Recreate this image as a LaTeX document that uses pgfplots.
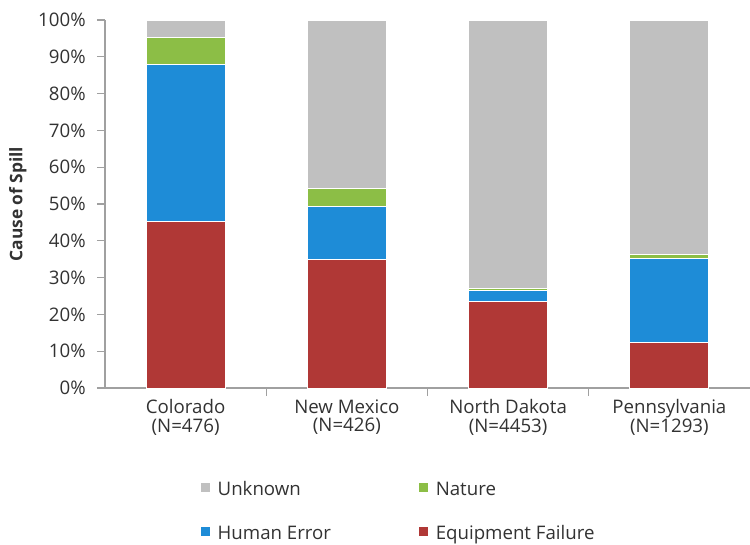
\documentclass[border=0pt]{standalone}
\usepackage{pgfplots}
\pgfplotsset{compat=1.18}
\usepackage{fontspec}
\setmainfont{Open Sans}

\definecolor{cUnknown}{RGB}{192,192,192}
\definecolor{cNature}{RGB}{140,190,70}
\definecolor{cHuman}{RGB}{30,140,215}
\definecolor{cEquip}{RGB}{176,56,54}
\definecolor{axisgray}{RGB}{160,160,160}
\definecolor{txt}{RGB}{50,50,50}

\begin{document}
\begin{tikzpicture}[x=1pt,y=1pt]
\useasboundingbox (-78.75,-117) rectangle (483.75,291);
\begin{axis}[
  at={(0,0)}, anchor=south west,
  scale only axis,
  width=483.75pt, height=276pt,
  ybar stacked,
  bar width=0.49,
  xmin=-0.5, xmax=3.5,
  ymin=0, ymax=100,
  axis x line=bottom, axis y line=left,
  axis line style={axisgray, line width=0.8pt, -},
  xtick={0,1,2,3},
  xticklabels={{Colorado\\(N=476)},{New Mexico\\(N=426)},{North Dakota\\(N=4453)},{Pennsylvania\\(N=1293)}},
  xticklabel style={align=center, font=\fontsize{14}{14}\selectfont, text=txt, yshift=1pt},
  major x tick style={draw=none},
  minor xtick={0.5,1.5,2.5},
  minor x tick style={axisgray, line width=0.8pt},
  minor tick length=6pt,
  ytick={0,10,...,100},
  yticklabel={\pgfmathprintnumber{\tick}\%},
  yticklabel style={font=\fontsize{14}{14}\selectfont, text=txt, xshift=-5pt},
  /pgf/number format/assume math mode=true,
  major y tick style={axisgray, line width=0.8pt},
  major tick length=6pt,
  tick align=outside,
  ylabel={\textbf{Cause of Spill}},
  ylabel style={font=\fontsize{13}{14}\selectfont, text=txt, anchor=center,
    at={(axis description cs:-0.135,0.5)}},
  every axis plot/.append style={draw=white, line width=0.7pt},
  legend columns=2,
  reverse legend,
  legend style={draw=none, fill=none, at={(0.456,-0.239)}, anchor=north,
    font=\fontsize{14}{14}\selectfont, text=txt,
    /tikz/every even column/.append style={column sep=64pt},
    row sep=17pt},
  legend cell align=left,
  legend image code/.code={%
    \fill[#1, draw=none] (0pt,-2pt) rectangle (6.8pt,4.8pt);
    \path[draw=none, fill=none] (0pt,1.4pt) -- (10.5pt,1.4pt);},
]
\addplot[fill=cEquip] coordinates {(0,45.2) (1,35.0) (2,23.6) (3,12.3)};
\addlegendentry{Equipment Failure}
\addplot[fill=cHuman] coordinates {(0,42.6) (1,14.3) (2,3.0) (3,22.8)};
\addlegendentry{Human Error}
\addplot[fill=cNature] coordinates {(0,7.4) (1,4.8) (2,0.4) (3,1.3)};
\addlegendentry{Nature}
\addplot[fill=cUnknown] coordinates {(0,4.8) (1,45.9) (2,73.0) (3,63.6)};
\addlegendentry{Unknown}
\end{axis}
\end{tikzpicture}
\end{document}
